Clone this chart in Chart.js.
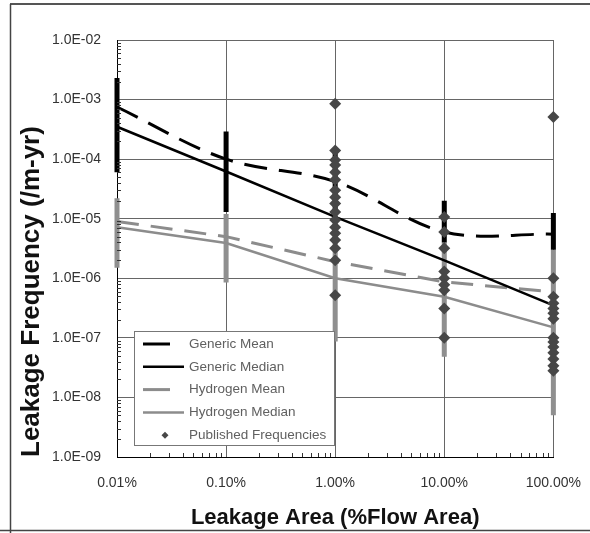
<!DOCTYPE html>
<html>
<head>
<meta charset="utf-8">
<title>Leakage Frequency</title>
<script src="https://cdn.jsdelivr.net/npm/chart.js@4.4.1/dist/chart.umd.min.js"></script>
<style>
  html, body { margin: 0; padding: 0; background: #fff; }
  canvas { display: block; }
</style>
</head>
<body>
<canvas id="chart" width="590" height="533"></canvas>
<script>
// Leakage area (% of flow area) and the frequencies
const areaPct = [0.01, 0.1, 1, 10, 100];
const genericMean = [7.5e-4, 1.0e-4, 4.2e-5, 6.0e-6, 5.5e-6];
const genericMedian = [3.5e-4, 6.2e-5, 1.07e-5, 2.0e-6, 3.5e-7];
const hydrogenMean = [9.0e-6, 5.0e-6, 1.9e-6, 8.7e-7, 5.9e-7];
const hydrogenMedian = [7.2e-6, 3.9e-6, 1.0e-6, 4.9e-7, 1.5e-7];

// Uncertainty bars (high / low)
const genericBarHigh = [2.3e-3, 2.9e-4, 1.5e-4, 2.0e-5, 1.25e-5];
const genericBarLow = [6.0e-5, 1.3e-5, 1.2e-5, 4.0e-6, 3.0e-6];
const hydrogenBarHigh = [2.2e-5, 1.2e-5, 1.2e-5, 4.0e-6, 3.0e-6];
const hydrogenBarLow = [1.5e-6, 8.5e-7, 8.7e-8, 4.8e-8, 5.0e-9];

// Published frequencies (diamonds)
const publishedArea = [
  1, 1, 1, 1, 1, 1, 1, 1, 1, 1, 1, 1, 1, 1, 1, 1, 1,
  10, 10, 10, 10, 10, 10, 10, 10, 10,
  100, 100, 100, 100, 100, 100, 100, 100, 100, 100, 100, 100, 100, 100
];
const publishedFreq = [
  8.5e-4, 1.4e-4, 9.7e-5, 8.0e-5, 6.0e-5, 4.5e-5, 3.0e-5, 2.3e-5, 1.8e-5, 1.3e-5, 9.5e-6, 7.2e-6, 5.7e-6, 4.4e-6, 3.2e-6, 2.0e-6, 5.2e-7,
  1.07e-5, 6.0e-6, 3.2e-6, 1.3e-6, 1.0e-6, 7.8e-7, 6.3e-7, 3.1e-7, 1.0e-7,
  5.1e-4, 1.0e-6, 4.9e-7, 3.8e-7, 3.1e-7, 2.6e-7, 2.1e-7, 1.0e-7, 8.5e-8, 7.0e-8, 5.6e-8, 4.4e-8, 3.4e-8, 2.8e-8
];

const xTickValues = [0.01, 0.1, 1, 10, 100];
const xTickLabels = ['0.01%', '0.10%', '1.00%', '10.00%', '100.00%'];
const yTickValues = [1e-9, 1e-8, 1e-7, 1e-6, 1e-5, 1e-4, 1e-3, 1e-2];
const yTickLabels = ['1.0E-09', '1.0E-08', '1.0E-07', '1.0E-06', '1.0E-05', '1.0E-04', '1.0E-03', '1.0E-02'];

const FONT = "'Liberation Sans', Arial, sans-serif";

function pts(xs, ys) {
  return xs.map((x, i) => ({ x: x, y: ys[i] }));
}

// one short line dataset per uncertainty bar
function bars(high, low, color) {
  return areaPct.map((x, i) => ({
    type: 'line',
    data: [{ x: x, y: high[i] }, { x: x, y: low[i] }],
    borderColor: color,
    borderWidth: 5,
    pointRadius: 0,
    clip: false,
    order: 3
  }));
}

const datasets = [
  {
    label: 'Published Frequencies', type: 'scatter',
    data: pts(publishedArea, publishedFreq),
    pointStyle: 'rectRot', pointRadius: 6,
    backgroundColor: '#474747', borderColor: '#474747', borderWidth: 0,
    clip: false, order: 0
  },
  {
    label: 'Generic Mean', data: pts(areaPct, genericMean),
    borderColor: '#000', borderWidth: 3, borderDash: [23, 12], tension: 0.35,
    pointRadius: 0, clip: false, order: 1
  },
  {
    label: 'Generic Median', data: pts(areaPct, genericMedian),
    borderColor: '#000', borderWidth: 2.5, tension: 0,
    pointRadius: 0, clip: false, order: 1
  },
  {
    label: 'Hydrogen Mean', data: pts(areaPct, hydrogenMean),
    borderColor: '#8c8c8c', borderWidth: 3, borderDash: [22, 12], tension: 0,
    pointRadius: 0, clip: false, order: 1
  },
  {
    label: 'Hydrogen Median', data: pts(areaPct, hydrogenMedian),
    borderColor: '#8c8c8c', borderWidth: 2.5, tension: 0,
    pointRadius: 0, clip: false, order: 1
  }
].concat(bars(genericBarHigh, genericBarLow, '#000'), bars(hydrogenBarHigh, hydrogenBarLow, '#8f8f8f'));

const legendOrder = ['Generic Mean', 'Generic Median', 'Hydrogen Mean', 'Hydrogen Median', 'Published Frequencies'];

// figure frame
const framePlugin = {
  id: 'frame',
  beforeDraw(chart) {
    const ctx = chart.ctx;
    ctx.save();
    ctx.strokeStyle = '#555';
    ctx.lineWidth = 2;
    ctx.beginPath();
    ctx.moveTo(10, 4); ctx.lineTo(590, 4);
    ctx.stroke();
    ctx.lineWidth = 1.5;
    ctx.strokeStyle = '#444';
    ctx.beginPath();
    ctx.moveTo(10.5, 4); ctx.lineTo(10.5, 533);
    ctx.moveTo(0, 530.5); ctx.lineTo(590, 530.5);
    ctx.stroke();
    ctx.restore();
  }
};

// small inward minor ticks on both log axes
const minorTicks = {
  id: 'minorTicks',
  afterDatasetsDraw(chart) {
    const { ctx, chartArea: a, scales: { x, y } } = chart;
    ctx.save();
    ctx.strokeStyle = '#333';
    ctx.lineWidth = 1;
    ctx.beginPath();
    for (let d = 0.01; d < 100; d *= 10) {
      for (let k = 2; k <= 9; k++) {
        const px = Math.round(x.getPixelForValue(d * k)) + 0.5;
        ctx.moveTo(px, a.bottom); ctx.lineTo(px, a.bottom - 4);
      }
    }
    for (let e = -9; e < -2; e++) {
      for (let k = 2; k <= 9; k++) {
        const py = Math.round(y.getPixelForValue(k * Math.pow(10, e))) + 0.5;
        ctx.moveTo(a.left, py); ctx.lineTo(a.left + 4, py);
      }
    }
    ctx.stroke();
    ctx.restore();
  }
};

// boxed legend inside the plot, bottom left
const boxLegend = {
  id: 'boxLegend',
  afterDraw(chart) {
    const { ctx, chartArea: a } = chart;
    const left = a.left + 17, top = a.bottom - 126, w = 200, h = 114;
    ctx.save();
    ctx.fillStyle = '#fff';
    ctx.fillRect(left, top, w, h);
    ctx.strokeStyle = '#777';
    ctx.lineWidth = 1;
    ctx.strokeRect(left + 0.5, top + 0.5, w, h);
    ctx.font = '13.5px ' + FONT;
    ctx.textBaseline = 'middle';
    legendOrder.forEach((name, i) => {
      const ds = chart.data.datasets.find(d => d.label === name);
      const cy = top + 13 + i * 22.8;
      if (ds.type === 'scatter') {
        ctx.fillStyle = ds.backgroundColor;
        ctx.beginPath();
        ctx.moveTo(left + 31, cy - 3.5); ctx.lineTo(left + 34.5, cy);
        ctx.lineTo(left + 31, cy + 3.5); ctx.lineTo(left + 27.5, cy);
        ctx.closePath(); ctx.fill();
      } else {
        ctx.strokeStyle = ds.borderColor;
        ctx.lineWidth = ds.borderWidth;
        ctx.beginPath();
        ctx.moveTo(left + 9, cy);
        ctx.lineTo(left + (ds.borderDash ? 36 : 50), cy);
        ctx.stroke();
      }
      ctx.fillStyle = '#606060';
      ctx.fillText(name, left + 55, cy);
    });
    ctx.restore();
  }
};

new Chart(document.getElementById('chart'), {
  type: 'line',
  data: { datasets: datasets },
  options: {
    responsive: false,
    animation: false,
    layout: { padding: { left: 10, top: 40, right: 20, bottom: 0 } },
    plugins: {
      legend: { display: false },
      tooltip: { enabled: false }
    },
    scales: {
      x: {
        type: 'logarithmic', min: 0.01, max: 100,
        afterBuildTicks: s => { s.ticks = xTickValues.map(v => ({ value: v })); },
        afterFit: s => { s.height = 76; },
        grid: { color: '#666', lineWidth: 1, drawTicks: false },
        border: { color: '#000', width: 1 },
        ticks: {
          autoSkip: false, maxRotation: 0, padding: 9, color: '#333',
          font: { family: FONT, size: 14, lineHeight: 2.5 },
          callback: (v, i) => xTickLabels[i]
        },
        title: {
          display: true, text: 'Leakage Area (%Flow Area)', color: '#111',
          font: { family: FONT, size: 22, weight: 'bold' },
          padding: { top: 0, bottom: 2 }
        }
      },
      y: {
        type: 'logarithmic', min: 1e-9, max: 1e-2,
        afterBuildTicks: s => { s.ticks = yTickValues.map(v => ({ value: v })); },
        afterFit: s => { s.width = 107; },
        grid: { color: '#666', lineWidth: 1, drawTicks: false },
        border: { color: '#000', width: 1 },
        ticks: {
          padding: 16, color: '#333',
          font: { family: FONT, size: 14 },
          callback: (v, i) => yTickLabels[i]
        },
        title: {
          display: true, text: 'Leakage Frequency (/m-yr)', color: '#111', align: 'start',
          font: { family: FONT, size: 26, weight: 'bold' },
          padding: { top: 6, bottom: 0 }
        }
      }
    }
  },
  plugins: [framePlugin, minorTicks, boxLegend]
});
</script>
</body>
</html>
